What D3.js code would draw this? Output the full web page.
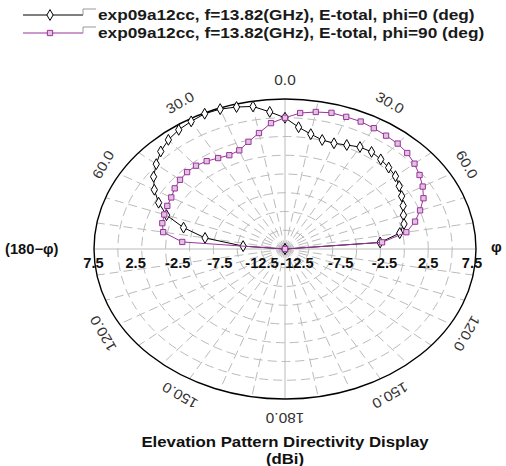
<!DOCTYPE html>
<html>
<head>
<meta charset="utf-8">
<script src="https://d3js.org/d3.v7.min.js"></script>
<style>
  body { margin: 0; background: #fff; }
  text { font-family: "Liberation Sans", Arial, sans-serif; }
</style>
</head>
<body>
<script>
// theta (deg) - negative side is drawn on the left, labelled (180-phi)
var thetaDeg = [-90, -85, -80, -75, -70, -65, -60, -55, -50, -45, -40, -35, -30, -25, -20, -15, -10, -5, 0,
                5, 10, 15, 20, 25, 30, 35, 40, 45, 50, 55, 60, 65, 70, 75, 80, 85, 90];

// directivity in dBi (values at the floor sit at the centre)
var phi0 = [-12.5, -8.1, -4.0, -1.5, 0.7, 2.1, 3.3, 4.3, 5.1, 5.9, 6.5, 6.9, 7.15, 7.4, 7.35, 7.1, 6.8, 5.85, 5.0,
            3.8, 3.05, 2.55, 2.5, 2.8, 3.2, 3.3, 3.1, 2.85, 2.6, 2.1, 1.6, 1.15, 0.7, 0.4, -0.3, -2.5, -12.5];
var phi90 = [-12.5, -1.7, 0.45, 0.8, 0.95, 1.1, 1.25, 1.6, 1.85, 2.0, 2.0, 1.8, 1.5, 1.3, 1.5, 2.3, 3.2, 4.35, 5.0,
             5.7, 6.05, 6.3, 6.25, 6.25, 6.1, 5.95, 5.85, 5.6, 5.2, 4.7, 4.15, 3.5, 2.55, 1.6, 0.4, -2.3, -12.5];

var seriesNames = ["exp09a12cc, f=13.82(GHz), E-total, phi=0 (deg)",
                   "exp09a12cc, f=13.82(GHz), E-total, phi=90 (deg)"];

var ringTicks = [-10, -7.5, -5, -2.5, 0, 2.5, 5];
var ringLabels = [7.5, 2.5, -2.5, -7.5, -12.5];
var spokeAngles = d3.range(0, 360, 10);
var angleLabels = [
    { a: 0, t: "0.0" }, { a: 30, t: "30.0" }, { a: 60, t: "60.0" }, { a: 120, t: "120.0" },
    { a: 150, t: "150.0" }, { a: 180, t: "180.0" }, { a: -30, t: "30.0" }, { a: -60, t: "60.0" },
    { a: -120, t: "120.0" }, { a: -150, t: "150.0" }
];

var W = 506, H = 466,
    cx = 285, cy = 249, rx = 191, ry = 150;

var svg = d3.select("body").append("svg").attr("width", W).attr("height", H);

// radial scale -> fraction of outer radius
var rScale = d3.scaleLinear().domain([-12.5, 7.5]).range([0, 1]).clamp(true);

function px(db, deg) { return cx + rx * rScale(db) * Math.sin(deg * Math.PI / 180); }
function py(db, deg) { return cy - ry * rScale(db) * Math.cos(deg * Math.PI / 180); }

// the source picture is stretched sideways, so its text is too
function placeText(sel, x, y, sx) {
    return sel.attr("transform", "translate(" + x + "," + y + ") scale(" + sx + ",1)");
}

var grid = svg.append("g");

// dashed rings
grid.selectAll("ellipse.ring").data(ringTicks).enter().append("ellipse")
    .attr("class", "ring")
    .attr("cx", cx).attr("cy", cy)
    .attr("rx", function (d) { return rx * rScale(d); })
    .attr("ry", function (d) { return ry * rScale(d); })
    .attr("fill", "none")
    .attr("stroke", "#bbb")
    .attr("stroke-dasharray", "9,5");

// spokes
grid.selectAll("line.spoke").data(spokeAngles).enter().append("line")
    .attr("class", "spoke")
    .attr("x1", cx).attr("y1", cy)
    .attr("x2", function (d) { return px(7.5, d); })
    .attr("y2", function (d) { return py(7.5, d); })
    .attr("stroke", "#bbb")
    .attr("stroke-dasharray", function (d) { return d % 90 === 0 ? null : "9,5"; });

// outer boundary
svg.append("ellipse")
    .attr("cx", cx).attr("cy", cy).attr("rx", rx).attr("ry", ry)
    .attr("fill", "none").attr("stroke", "#000").attr("stroke-width", 1.4);

// angle labels
svg.selectAll("text.ang").data(angleLabels).enter().append("text")
    .attr("class", "ang")
    .attr("transform", function (d) {
        var r = d.a * Math.PI / 180;
        var x = cx + (rx + 19) * Math.sin(r), y = cy - (ry + 19) * Math.cos(r);
        return "translate(" + x + "," + y + ") rotate(" + d.a + ") scale(1.1,1)";
    })
    .attr("text-anchor", "middle")
    .attr("dy", "0.35em")
    .attr("font-size", 14)
    .attr("fill", "#333")
    .text(function (d) { return d.t; });

// radial labels along the horizontal axis
var labLeft = d3.scaleLinear().domain([-12.5, 7.5]).range([cx - 23, cx - 191.5]);
var labRight = d3.scaleLinear().domain([-12.5, 7.5]).range([cx + 12, cx + 187]);
var radG = svg.append("g").attr("font-size", 14).attr("font-weight", "bold").attr("fill", "#111")
    .attr("text-anchor", "middle");
radG.selectAll("text.l").data(ringLabels).enter().append("text")
    .each(function (d) { placeText(d3.select(this), labLeft(d), 268, 1.05); })
    .text(function (d) { return d; });
radG.selectAll("text.r").data(ringLabels).enter().append("text")
    .each(function (d) { placeText(d3.select(this), labRight(d), 268, 1.05); })
    .text(function (d) { return d; });

placeText(svg.append("text"), 5, 254, 1.05)
    .attr("font-size", 14).attr("font-weight", "bold").attr("fill", "#111")
    .text("(180\u2212\u03c6)");
svg.append("text").attr("x", 491).attr("y", 252)
    .attr("font-size", 15).attr("font-weight", "bold").attr("fill", "#111")
    .text("\u03c6");

// series
var series = [
    { name: seriesNames[0], values: phi0, color: "#000", fill: "#fff", sym: d3.symbolDiamond, size: 34 },
    { name: seriesNames[1], values: phi90, color: "#993399", fill: "#e2c2e2", sym: d3.symbolSquare, size: 28 }
];

var line = d3.line()
    .x(function (d) { return px(d.v, d.a); })
    .y(function (d) { return py(d.v, d.a); });

series.forEach(function (s) {
    var pts = thetaDeg.map(function (a, i) { return { a: a, v: s.values[i] }; });
    var g = svg.append("g");
    g.append("path").datum(pts)
        .attr("d", line)
        .attr("fill", "none")
        .attr("stroke", s.color)
        .attr("stroke-width", 1);
    g.selectAll("path.m").data(pts).enter().append("path")
        .attr("class", "m")
        .attr("transform", function (d) { return "translate(" + px(d.v, d.a) + "," + py(d.v, d.a) + ")"; })
        .attr("d", d3.symbol().type(s.sym).size(s.size))
        .attr("fill", s.fill)
        .attr("stroke", s.color)
        .attr("stroke-width", 1);
});

// legend
var leg = svg.append("g").selectAll("g").data(series).enter().append("g")
    .attr("transform", function (d, i) { return "translate(0," + (15 + i * 18) + ")"; });
leg.append("line").attr("x1", 23).attr("x2", 83).attr("y1", 0).attr("y2", 0)
    .attr("stroke", function (d) { return d.color; });
leg.append("path")
    .attr("transform", "translate(50,0)")
    .attr("d", function (d) { return d3.symbol().type(d.sym).size(d.size)(); })
    .attr("fill", function (d) { return d.fill; })
    .attr("stroke", function (d) { return d.color; })
    .attr("stroke-width", 1);
leg.append("path").attr("d", "M83,0V-6H96")
    .attr("fill", "none").attr("stroke", "#999");
leg.append("text")
    .each(function () { placeText(d3.select(this), 98, 0, 1.15); })
    .attr("dy", "0.36em")
    .attr("font-size", 15).attr("font-weight", "bold").attr("fill", "#1a1a1a")
    .text(function (d) { return d.name; });

// title
placeText(svg.append("text"), cx, 447, 1.12).attr("text-anchor", "middle")
    .attr("font-size", 15).attr("font-weight", "bold").attr("fill", "#111")
    .text("Elevation Pattern Directivity Display");
placeText(svg.append("text"), cx, 464, 1.12).attr("text-anchor", "middle")
    .attr("font-size", 15).attr("font-weight", "bold").attr("fill", "#111")
    .text("(dBi)");
</script>
</body>
</html>
